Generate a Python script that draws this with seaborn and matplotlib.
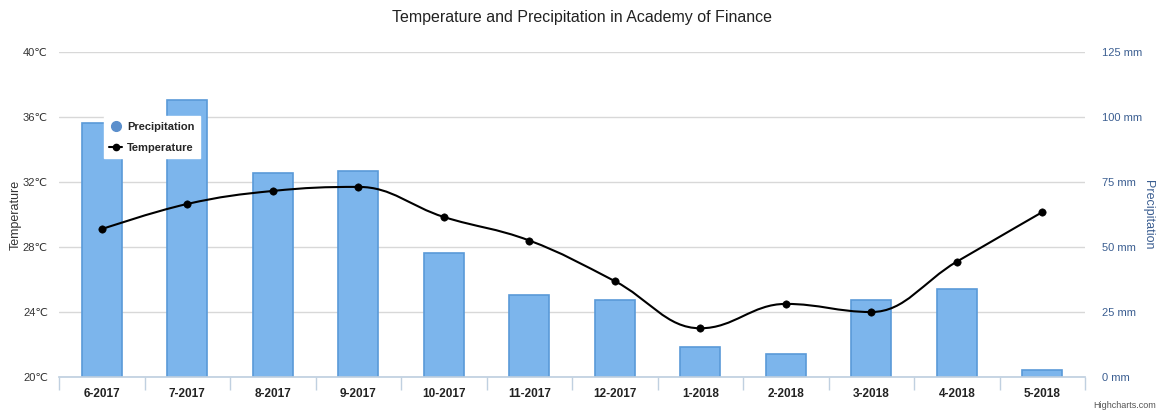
import numpy as np
import pandas as pd
import matplotlib
matplotlib.use("Agg")
import matplotlib.pyplot as plt
import seaborn as sns
from matplotlib.path import Path
from matplotlib.patches import PathPatch
from matplotlib.lines import Line2D

# data
months = ["6-2017", "7-2017", "8-2017", "9-2017", "10-2017", "11-2017",
          "12-2017", "1-2018", "2-2018", "3-2018", "4-2018", "5-2018"]
precipitation = [97.7, 106.5, 78.5, 79.2, 47.7, 31.5, 29.6, 11.5, 8.8, 29.6, 33.8, 2.7]
temperature = [29.1, 30.65, 31.45, 31.7, 29.85, 28.4, 25.9, 23.0, 24.5, 24.0, 27.1, 30.15]

df = pd.DataFrame({"Month": months, "Precipitation": precipitation,
                   "Temperature": temperature})

sns.set_theme(style="white")
plt.rcParams["font.family"] = ["Liberation Sans", "DejaVu Sans"]

fig = plt.figure(figsize=(11.64, 4.18), dpi=100)
ax_p = fig.add_axes([0.0507, 0.098, 0.8815, 0.7776])
ax_t = ax_p.twinx()
# temperature axis on the left, precipitation on the right
ax_p.yaxis.tick_right()
ax_p.yaxis.set_label_position("right")
ax_t.yaxis.tick_left()
ax_t.yaxis.set_label_position("left")

bar_blue = "#7cb5ec"
sns.barplot(data=df, x="Month", y="Precipitation", ax=ax_p, color=bar_blue,
            width=0.47, edgecolor="#5a9ad8", linewidth=1.2, saturation=1)
ax_p.set_ylim(0, 125)
ax_p.set_yticks([0, 25, 50, 75, 100, 125])
ax_p.set_yticklabels([f"{v} mm" for v in [0, 25, 50, 75, 100, 125]],
                     color="#3b5e91", fontsize=8)
ax_p.set_ylabel("Precipitation", color="#3b5e91", fontsize=9, rotation=270,
                va="center")
ax_p.yaxis.set_label_coords(1.061, 0.5)
ax_p.set_xlim(-0.5, len(months) - 0.5)
ax_p.set_xlabel("")
ax_p.grid(axis="y", color="#d8d8d8", linewidth=1)
ax_p.set_axisbelow(True)

# spline through the temperature points (Highcharts-style smoothing)
xs = np.arange(len(months), dtype=float)
ys = np.array(temperature)
verts = [(xs[0], ys[0])]
codes = [Path.MOVETO]
sm, den = 1.5, 2.5
ctrl = []
for i in range(len(xs)):
    if 0 < i < len(xs) - 1:
        lx = (sm * xs[i] + xs[i - 1]) / den
        ly = (sm * ys[i] + ys[i - 1]) / den
        rx = (sm * xs[i] + xs[i + 1]) / den
        ry = (sm * ys[i] + ys[i + 1]) / den
        corr = ((ry - ly) * (rx - xs[i])) / (rx - lx) + ys[i] - ry
        ly += corr
        ry += corr
        if ly > max(ys[i - 1], ys[i]):
            ly = max(ys[i - 1], ys[i]); ry = 2 * ys[i] - ly
        elif ly < min(ys[i - 1], ys[i]):
            ly = min(ys[i - 1], ys[i]); ry = 2 * ys[i] - ly
        if ry > max(ys[i + 1], ys[i]):
            ry = max(ys[i + 1], ys[i]); ly = 2 * ys[i] - ry
        elif ry < min(ys[i + 1], ys[i]):
            ry = min(ys[i + 1], ys[i]); ly = 2 * ys[i] - ry
        ctrl.append(((lx, ly), (rx, ry)))
    else:
        ctrl.append(((xs[i], ys[i]), (xs[i], ys[i])))
for i in range(1, len(xs)):
    verts += [ctrl[i - 1][1], ctrl[i][0], (xs[i], ys[i])]
    codes += [Path.CURVE4] * 3
ax_t.add_patch(PathPatch(Path(verts, codes), facecolor="none",
                         edgecolor="black", linewidth=1.5, zorder=3))
sns.scatterplot(x=xs, y=ys, ax=ax_t, color="black", s=28, zorder=4,
                edgecolor="black", legend=False)
ax_t.set_ylim(20, 40)
ax_t.set_yticks([20, 24, 28, 32, 36, 40])
ax_t.set_yticklabels([f"{v}℃" for v in [20, 24, 28, 32, 36, 40]],
                     color="#333333", fontsize=8)
ax_t.set_ylabel("Temperature", color="#333333", fontsize=9, va="center")
ax_t.yaxis.set_label_coords(-0.042, 0.5)
ax_t.set_xlim(-0.5, len(months) - 0.5)

for a in (ax_p, ax_t):
    for s in a.spines.values():
        s.set_visible(False)
    a.tick_params(axis="y", length=0)
ax_t.tick_params(axis="y", pad=8)
ax_p.tick_params(axis="y", pad=12)
ax_p.spines["bottom"].set_visible(True)
ax_p.spines["bottom"].set_color("#c0d0e0")
ax_p.set_xticks(np.arange(len(months)))
ax_p.set_xticklabels(months, fontsize=8.5, color="#222222", fontweight="bold")
ax_p.tick_params(axis="x", length=0, pad=8)
ax_p.set_xticks(np.arange(-0.5, len(months)), minor=True)
ax_p.tick_params(axis="x", which="minor", length=9, color="#c0d0e0",
                 direction="out", bottom=True)

handles = [
    Line2D([], [], marker="o", linestyle="none", markersize=7,
           markerfacecolor="#5b8fcc", markeredgecolor="#5b8fcc"),
    Line2D([], [], marker="o", color="black", markersize=4.5, linewidth=1.5),
]
leg = ax_t.legend(handles, ["Precipitation", "Temperature"],
                  loc="upper left", bbox_to_anchor=(0.038, 0.82),
                  frameon=True, fancybox=False, framealpha=1,
                  edgecolor="white", handlelength=1.2, handletextpad=0.4,
                  prop={"weight": "bold", "size": 8}, borderpad=0.5,
                  labelspacing=1.0)

fig.text(0.5, 0.958, "Temperature and Precipitation in Academy of Finance",
         ha="center", va="center", fontsize=11.5, color="#222222")
fig.text(0.993, 0.02, "Highcharts.com", ha="right", va="bottom",
         fontsize=6.5, color="#555555")

fig.savefig("out.png", dpi=100, facecolor="white")
